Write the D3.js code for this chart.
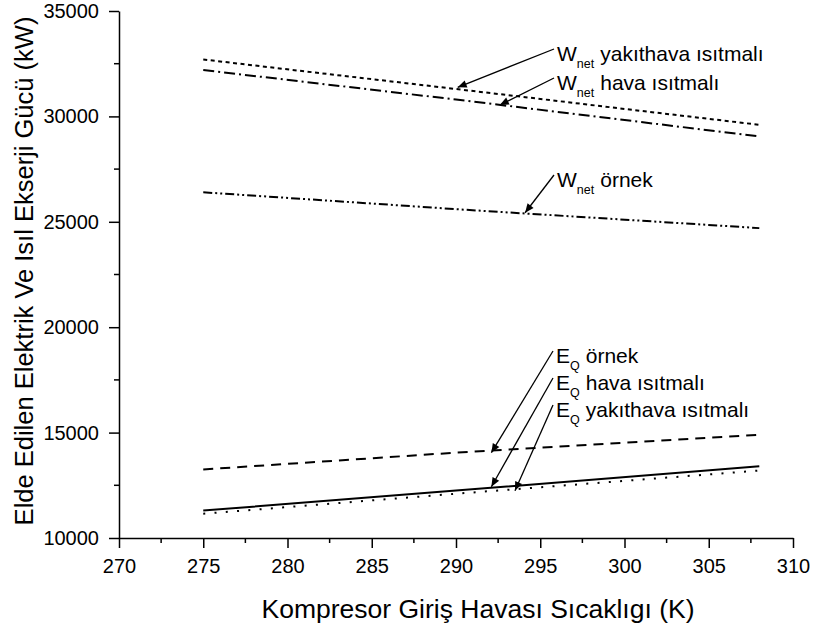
<!DOCTYPE html>
<html>
<head>
<meta charset="utf-8">
<script src="https://cdn.jsdelivr.net/npm/d3@7"></script>
<style>
  body { margin: 0; background: #fff; }
  text { font-family: "Liberation Sans", Arial, sans-serif; }
</style>
</head>
<body>
<div id="chart"></div>
<script>
// data
var temps = [275, 290, 308]
var wYakithava = [32700, 31300, 29600]
var wHava = [32200, 30800, 29050]
var wOrnek = [26400, 25600, 24700]
var eOrnek = [13250, 14050, 14900]
var eHava = [11300, 12250, 13400]
var eYakithava = [11150, 12100, 13200]

var xTicks = [270, 275, 280, 285, 290, 295, 300, 305, 310]
var yTicks = [10000, 15000, 20000, 25000, 30000, 35000]

var width = 820, height = 625
var svg = d3.select("#chart").append("svg")
            .attr("width", width)
            .attr("height", height)

var x = d3.scaleLinear().domain([270, 310]).range([119, 793])
var y = d3.scaleLinear().domain([10000, 35000]).range([538, 11])

// axes
var xAxis = d3.axisBottom(x).tickValues(xTicks).tickSize(10).tickSizeOuter(0).tickPadding(11)
var gx = svg.append("g").attr("transform", "translate(0," + y(10000) + ")").call(xAxis)
var yAxis = d3.axisLeft(y).tickValues(yTicks).tickSize(10).tickSizeOuter(0).tickFormat(d3.format("d")).tickPadding(10)
var gy = svg.append("g").attr("transform", "translate(" + x(270) + ",0)").call(yAxis)

// minor ticks
var xMinor = d3.range(272.5, 310, 5)
var yMinor = d3.range(12500, 35000, 5000)
svg.append("g").selectAll("line").data(xMinor).enter().append("line")
   .attr("x1", function(d) { return x(d) }).attr("x2", function(d) { return x(d) })
   .attr("y1", y(10000)).attr("y2", y(10000) + 5)
   .attr("stroke", "#000").attr("stroke-width", 1.5)
svg.append("g").selectAll("line").data(yMinor).enter().append("line")
   .attr("y1", function(d) { return y(d) }).attr("y2", function(d) { return y(d) })
   .attr("x1", x(270)).attr("x2", x(270) - 5)
   .attr("stroke", "#000").attr("stroke-width", 1.5)

;[gx, gy].forEach(function(g) {
  g.attr("font-size", 20).attr("font-family", "'Liberation Sans', Arial, sans-serif")
  g.selectAll("path, line").attr("stroke", "#000").attr("stroke-width", 1.5)
  g.selectAll("text").attr("fill", "#000")
})

// axis titles
svg.append("text")
   .attr("x", 478).attr("y", 618)
   .attr("text-anchor", "middle").attr("font-size", 26.5)
   .text("Kompresor Giriş Havası Sıcaklıgı (K)")
svg.append("text")
   .attr("transform", "translate(33,271) rotate(-90)")
   .attr("text-anchor", "middle").attr("font-size", 25.5)
   .text("Elde Edilen Elektrik Ve Isıl Ekserji Gücü (kW)")

// series lines
var series = [
  { vals: wYakithava, dash: "4,3.5" },
  { vals: wHava, dash: "11,4,2,4" },
  { vals: wOrnek, dash: "9,3,2,3,2,3" },
  { vals: eOrnek, dash: "10,7" },
  { vals: eHava, dash: null },
  { vals: eYakithava, dash: "2,9.3" }
]
var line = d3.line()
   .x(function(d) { return x(d[0]) })
   .y(function(d) { return y(d[1]) })
series.forEach(function(s) {
  var p = svg.append("path")
     .datum(d3.zip(temps, s.vals))
     .attr("d", line)
     .attr("fill", "none")
     .attr("stroke", "#000")
     .attr("stroke-width", 2)
  if (s.dash) p.attr("stroke-dasharray", s.dash)
})

// annotations: text anchor and arrow tip (data coords)
var labels = [
  { main: "W", sub: "net", rest: "yakıthava ısıtmalı", tx: 557, ty: 61, ax: 290.1, ay: 31380 },
  { main: "W", sub: "net", rest: "hava ısıtmalı", tx: 557, ty: 90, ax: 292.6, ay: 30540 },
  { main: "W", sub: "net", rest: "örnek", tx: 557, ty: 187, ax: 294.1, ay: 25430 },
  { main: "E", sub: "Q", rest: "örnek", tx: 556, ty: 363, ax: 292.1, ay: 14050 },
  { main: "E", sub: "Q", rest: "hava ısıtmalı", tx: 556, ty: 390, ax: 292.1, ay: 12430 },
  { main: "E", sub: "Q", rest: "yakıthava ısıtmalı", tx: 556, ty: 417, ax: 293.5, ay: 12240 }
]

svg.append("defs").append("marker")
   .attr("id", "arr").attr("viewBox", "0 0 10 10")
   .attr("refX", 10).attr("refY", 5)
   .attr("markerWidth", 10).attr("markerHeight", 9)
   .attr("markerUnits", "userSpaceOnUse")
   .attr("orient", "auto")
   .append("path").attr("d", "M0,0.8 L10,5 L0,9.2 Z").attr("fill", "#000")

labels.forEach(function(l) {
  svg.append("line")
     .attr("x1", l.tx - 3).attr("y1", l.ty - 12)
     .attr("x2", x(l.ax)).attr("y2", y(l.ay))
     .attr("stroke", "#000").attr("stroke-width", 1.3)
     .attr("marker-end", "url(#arr)")
  var t = svg.append("text").attr("x", l.tx).attr("y", l.ty).attr("font-size", 21)
  t.append("tspan").text(l.main)
  t.append("tspan").attr("font-size", 12.5).attr("dy", 7).text(l.sub)
  t.append("tspan").attr("dy", -7).attr("dx", 6).text(l.rest)
})
</script>
</body>
</html>
